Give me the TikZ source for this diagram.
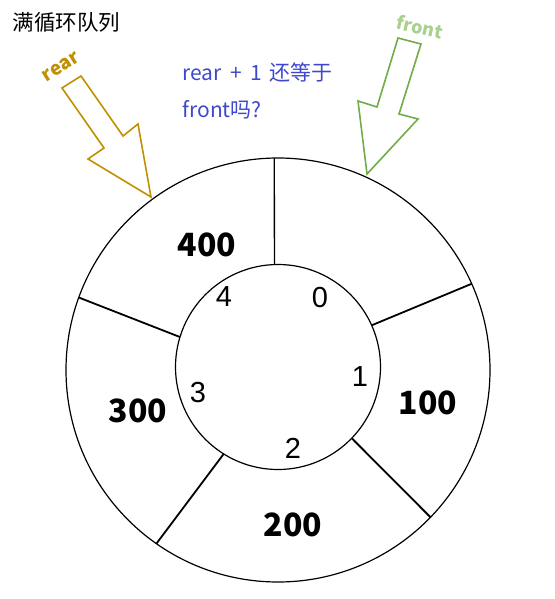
\documentclass[tikz,border=0pt]{standalone}
\usepackage{fontspec}
\setmainfont{Noto Sans CJK SC}
\newfontfamily\idxfont{Liberation Sans}
\usepackage{tikz}
\definecolor{rearcolor}{HTML}{BF9000}
\definecolor{frontcolor}{HTML}{70AD47}
\definecolor{frontlabel}{HTML}{A9D18E}
\definecolor{askcolor}{HTML}{3F48CC}
\begin{document}
\begin{tikzpicture}[x=1pt, y=-1pt,
    ring/.style={circle, draw, line width=1.2pt, inner sep=0pt, outer sep=0pt},
    divider/.style={line width=1.8pt},
    slot/.style={font=\fontsize{32}{32}\selectfont\bfseries},
    idx/.style={font=\idxfont\fontsize{29}{29}\selectfont},
    pointer/.style={line width=1.6pt, line join=miter},
]
\useasboundingbox (0,0) rectangle (554,599);

% Title and question
\node[anchor=west, font=\fontsize{21.5}{21.5}\selectfont] (title) at (9,22) {满循环队列};
\node[anchor=west, font=\fontsize{21}{21}\selectfont, color=askcolor] (askA) at (179,72) {rear\hspace{0.4em}+\hspace{0.4em}1\hspace{0.35em}还等于};
\node[anchor=west, font=\fontsize{21}{21}\selectfont, color=askcolor] (askB) at (179,110) {front吗?};

% Ring of slots
\node[ring, minimum size=424pt] (rim) at (278,370) {};
\node[ring, minimum size=205pt] (hub) at (278,367) {};

\draw[line width=1.3pt] (hub.92) -- (rim.91);
\draw[divider] (hub.24) -- (rim.24);
\draw[divider] (hub.-44) -- (rim.-44);
\draw[divider] (hub.-122) -- (rim.-125);
\draw[divider] (hub.163) -- (rim.160);

% Stored values
\node[slot] (v0) at (207,245) {400};
\node[slot] (v1) at (428,403) {100};
\node[slot] (v2) at (293,525) {200};
\node[slot] (v3) at (138,411) {300};

% Indices
\node[idx] (i0) at (320,298) {0};
\node[idx] (i1) at (360,377) {1};
\node[idx] (i2) at (293,448) {2};
\node[idx] (i3) at (198,393) {3};
\node[idx] (i4) at (224,297) {4};

% Pointers
\draw[pointer, rearcolor] (62,88) -- (81,76) -- (123,136) -- (138,124) -- (151,197) -- (88,159) -- (104,148) -- cycle;
\node[rotate=32, inner sep=1pt, font=\fontsize{19}{19}\selectfont\bfseries, color=rearcolor] (rearlbl) at (61,67) {rear};

\draw[pointer, frontcolor] (398,38) -- (421,44) -- (399,114) -- (418,119) -- (367,174) -- (358,101) -- (377,107) -- cycle;
\node[rotate=-13, inner sep=1pt, font=\fontsize{18}{18}\selectfont\bfseries, color=frontlabel] (frontlbl) at (420,27) {front};

\end{tikzpicture}
\end{document}
